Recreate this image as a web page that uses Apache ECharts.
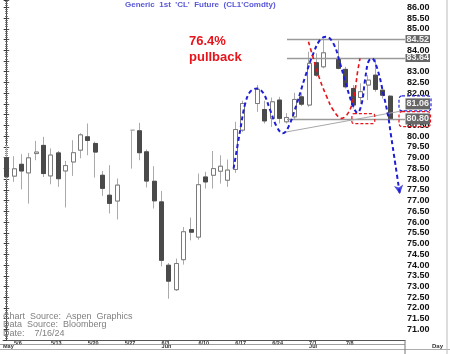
<!DOCTYPE html>
<html><head><meta charset="utf-8">
<script src="https://cdn.jsdelivr.net/npm/echarts/dist/echarts.min.js"></script>
<style>html,body{margin:0;padding:0;background:#fff}#c{width:450px;height:354px}</style>
</head><body><div id="c"></div>
<script>
// ---- data (one slot per weekday; holidays are null) ----
const dates = ['5/3','5/6','5/7','5/8','5/9','5/10','5/13','5/14','5/15','5/16','5/17','5/20','5/21','5/22','5/23','5/24','5/27','5/28','5/29','5/30','5/31','6/3','6/4','6/5','6/6','6/7','6/10','6/11','6/12','6/13','6/14','6/17','6/18','6/19','6/20','6/21','6/24','6/25','6/26','6/27','6/28','7/1','7/2','7/3','7/4','7/5','7/8','7/9','7/10','7/11','7/12','7/15','7/16'];
const opens = [79.00,78.14,78.69,78.29,79.19,79.57,78.15,79.22,78.38,78.80,79.35,79.97,79.66,78.18,77.25,76.98,null,80.28,80.25,79.27,77.90,76.94,73.99,72.85,74.25,75.65,75.30,78.10,78.18,78.37,77.95,78.45,80.28,null,81.52,81.24,80.83,81.68,80.67,80.90,81.83,81.45,83.42,83.23,null,83.62,83.11,82.22,81.80,82.38,82.84,82.14,81.86];
const closes = [78.11,78.48,78.38,78.99,79.26,78.26,79.12,78.02,78.63,79.23,80.06,79.80,79.26,77.57,76.87,77.72,null,80.28,79.23,77.91,76.99,74.22,73.25,74.07,75.55,75.53,77.74,77.87,78.49,78.60,78.42,80.31,81.52,null,82.18,80.71,81.60,80.83,80.87,81.71,81.49,83.39,82.84,83.88,null,83.16,82.30,81.45,82.07,82.61,82.18,81.91,80.80];
const lows = [77.95,77.87,77.52,76.86,78.88,78.10,77.76,77.64,76.68,78.15,78.97,79.11,78.07,77.22,76.40,76.12,null,78.49,78.88,77.61,76.63,73.94,72.43,72.79,74.02,75.15,75.18,77.56,77.56,77.79,77.64,78.29,80.20,null,81.13,80.59,80.43,80.59,80.59,80.78,81.40,81.37,82.76,83.16,null,83.11,82.22,81.29,81.52,81.68,82.07,81.75,80.75];
const highs = [79.58,79.07,79.16,79.22,79.78,79.97,79.43,79.31,78.85,79.81,80.14,80.59,79.75,78.38,78.65,78.03,null,80.28,80.62,79.38,78.60,77.45,74.09,74.30,75.77,76.21,78.26,78.34,79.31,79.11,78.91,80.67,81.65,null,82.38,81.65,81.80,81.83,81.07,82.02,82.00,83.93,83.86,84.52,null,84.45,83.23,82.38,82.46,82.84,83.64,82.30,81.91];

const weekIdx = [1,6,11,16,21,26,31,36,41,46];
const monthLabels = ['May','Jun','Jul'];
const monthIdx = [-0.5,21,41];

// annotation levels
const levelValues = [84.52, 83.64, 80.80];
const levelStartIdx = 38;
const currentPrice = 81.06;
const trendFrom = [37.5, 80.17];
const trendTo = [54, 81.20];

// hand-drawn projection curves (slot index, price)
const blueIdx = [30.76,31.66,32.34,33.02,33.92,34.82,35.72,36.63,37.44,38.20,39.34,40.46,41.58,42.49,43.30,44.29,45.20,46.10,47.00,47.54,48.13,48.58,49.03,49.49,50.16,51.06,51.73,52.06,52.71,53.30];
const bluePx  = [78.49,80.28,81.52,82.07,82.22,81.99,81.21,80.43,80.13,80.43,81.52,82.76,83.86,84.48,84.63,84.32,83.39,82.30,81.37,81.09,81.52,82.61,83.46,83.62,83.23,81.99,80.90,80.13,78.65,77.30];
const redIdx = [40.91,41.58,42.49,43.40,44.29,45.43,46.10,46.78,47.23,47.54,47.90];
const redPx  = [84.40,83.62,82.61,81.83,81.21,80.83,80.98,81.45,82.14,82.92,83.62];
const boxIdx = [46.8, 49.9];
const boxPx = [81.05, 80.58];

const FONT = 'Liberation Sans';
const weekMap = {}; weekIdx.forEach(i => weekMap[i] = dates[i]);
const monthMap = {}; monthIdx.forEach((i,k) => monthMap[i] = monthLabels[k]);

const wickData = [], bodyData = [];
dates.forEach((d,i) => {
  if (opens[i] == null) return;
  wickData.push([i, opens[i], closes[i], lows[i], highs[i]]);
  if (opens[i] !== closes[i]) bodyData.push([i, opens[i], closes[i], Math.min(opens[i],closes[i]), Math.max(opens[i],closes[i])]);
});

const hiddenNear = [84.52, 83.64, 80.80, 81.50];
const yFmt = v => {
  if (v < 71 || v > 86) return '';
  for (const h of hiddenNear) if (Math.abs(v - h) < 0.25) return '';
  return v.toFixed(2);
};

const chart = echarts.init(document.getElementById('c'), null, {renderer:'canvas'});
const yCommon = {type:'value', min:70.5, max:86.34, interval:0.5, splitLine:{show:false}};
const option = {
  animation: false,
  backgroundColor: '#fff',
  grid: {left: 2.3, right: 45, top: 0, bottom: 13.8},
  xAxis: [
    {type:'value', min:-0.5, max:54, interval:0.5,
     axisLine:{show:true, lineStyle:{color:'#555', width:1}}, axisTick:{show:false}, splitLine:{show:false},
     axisLabel:{formatter: v => weekMap[v] || '', fontSize:5.5, fontWeight:'bold', color:'#333', align:'left', margin:0, fontFamily:FONT}},
    {type:'value', min:-0.5, max:54, interval:0.5, position:'bottom', offset:3.5,
     axisLine:{show:false}, axisTick:{show:false}, splitLine:{show:false},
     axisLabel:{formatter: v => monthMap[v] || '', fontSize:5.5, fontWeight:'bold', color:'#333', align:'left', margin:0, fontFamily:FONT}}
  ],
  yAxis: [
    Object.assign({}, yCommon, {position:'right',
     axisLine:{show:true, lineStyle:{color:'#333'}},
     axisTick:{show:true, inside:true, length:3, lineStyle:{color:'#333'}},
     minorTick:{show:true, splitNumber:5, length:1.5, lineStyle:{color:'#666'}},
     axisLabel:{formatter:yFmt, fontSize:9, fontWeight:'bold', color:'#111', margin:2, fontFamily:FONT, showMinLabel:false, showMaxLabel:false}}),
    Object.assign({}, yCommon, {position:'left',
     axisLine:{show:true, lineStyle:{color:'#444'}},
     axisTick:{show:true, inside:true, length:2.5, lineStyle:{color:'#555'}},
     minorTick:{show:true, splitNumber:5, length:1.2, lineStyle:{color:'#777'}},
     axisLabel:{show:false}})
  ],
  series: [
    {type:'candlestick', name:'wick', data:wickData, encode:{x:0, y:[1,2,3,4]}, barWidth:4.5, z:2,
     itemStyle:{color:'#fff', color0:'#4a4a4a', borderColor:'#aaa', borderColor0:'#aaa', borderWidth:1},
     markLine:{silent:true, symbol:'none', animation:false, label:{show:false},
       lineStyle:{color:'#9a9a9a', width:1.4, type:'solid'},
       data: levelValues.map(v => [{coord:[levelStartIdx, v]}, {coord:[54, v]}])
             .concat([[{coord:trendFrom, lineStyle:{width:1, color:'#a8a8a8'}}, {coord:trendTo}]])}},
    {type:'candlestick', name:'body', data:bodyData, encode:{x:0, y:[1,2,3,4]}, barWidth:4.5, z:3,
     itemStyle:{color:'#fff', color0:'#4a4a4a', borderColor:'#7a7a7a', borderColor0:'#4a4a4a', borderWidth:1}},
    {type:'line', name:'blue', data: blueIdx.map((x,k) => [x, bluePx[k]]), smooth:0.4, symbol:'none', z:5,
     lineStyle:{color:'#1e1ed6', width:2, type:[4,3]}},
    {type:'line', name:'red', data: redIdx.map((x,k) => [x, redPx[k]]), smooth:0.4, symbol:'none', z:5,
     lineStyle:{color:'#e8141b', width:1.6, type:[4,3]}},
    {type:'scatter', name:'arrow', data:[[blueIdx[blueIdx.length-1], bluePx[bluePx.length-1]]],
     symbol:'arrow', symbolSize:[7,9], symbolRotate:188, z:6, itemStyle:{color:'#1e1ed6'}}
  ]
};
chart.setOption(option);

const P = (x, y) => chart.convertToPixel({xAxisIndex:0, yAxisIndex:0}, [x, y]);
const yPix = v => chart.convertToPixel({yAxisIndex:0}, v);
const g = [];
// title and notes
g.push({type:'text', x:125, y:4.5, z:50, style:{text:"Generic  1st  'CL'  Future  (CL1'Comdty)", fill:'#5858d8', fontSize:8, fontWeight:'bold', fontFamily:FONT, verticalAlign:'middle'}});
['Chart  Source:  Aspen  Graphics','Data  Source:  Bloomberg','Date:    7/16/24'].forEach((t,k) => {
  g.push({type:'text', x:3, y:[316.5,325,333.3][k], z:50, style:{text:t, fill:'#808080', fontSize:9, fontFamily:FONT, verticalAlign:'middle'}});
});
g.push({type:'text', x:189, y:41.7, z:50, style:{text:'76.4%', fill:'#e8141b', fontSize:13, fontWeight:'bold', fontFamily:FONT, verticalAlign:'middle'}});
g.push({type:'text', x:189, y:57.3, z:50, style:{text:'pullback', fill:'#e8141b', fontSize:13, fontWeight:'bold', fontFamily:FONT, verticalAlign:'middle'}});
// red box in plot
const b1 = P(boxIdx[0], boxPx[0]), b2 = P(boxIdx[1], boxPx[1]);
g.push({type:'rect', z:60, shape:{x:b1[0], y:b1[1], width:b2[0]-b1[0], height:b2[1]-b1[1], r:2}, style:{fill:'none', stroke:'#e8141b', lineWidth:1.2, lineDash:[3,2]}});
// price tags on the axis
const tag = (txt, cy, big) => ({type:'text', x:405.5, y:cy, z:55, style:{text:txt, fill:'#f2f2f2', backgroundColor:'#666', fontSize:9, fontWeight:'bold', fontFamily:FONT, verticalAlign:'middle', align:'left', padding: big ? [1,1] : [0,1], lineHeight: big ? 9 : 8}});
g.push(tag(levelValues[0].toFixed(2), yPix(levelValues[0]), false));
g.push(tag(levelValues[1].toFixed(2), yPix(levelValues[1]), false));
const cy81 = yPix(currentPrice) - 9.5;
const cy80 = yPix(levelValues[2]);
g.push(tag(currentPrice.toFixed(2), cy81, true));
g.push(tag(levelValues[2].toFixed(2), cy80, true));
g.push({type:'rect', z:60, shape:{x:399, y:cy81-8, width:32, height:15, r:3}, style:{fill:'none', stroke:'#2323d8', lineWidth:1.2, lineDash:[3,2]}});
g.push({type:'rect', z:60, shape:{x:399, y:cy80-7.3, width:31.5, height:15, r:3}, style:{fill:'none', stroke:'#e8141b', lineWidth:1.2, lineDash:[3,2]}});
// frame lines
const ln = (x1,y1,x2,y2,c,w) => ({type:'line', z:40, shape:{x1,y1,x2,y2}, style:{stroke:c, lineWidth:w||1}});
g.push(ln(0,344.5,405,344.5,'#888',0.8));
g.push(ln(0,349.5,450,349.5,'#999',0.8));
g.push(ln(405,340,405,354,'#777',1));
g.push(ln(447,0,447,354,'#bbb',1));
g.push({type:'text', x:432, y:346.5, z:50, style:{text:'Day', fill:'#333', fontSize:6, fontWeight:'bold', fontFamily:FONT, verticalAlign:'middle'}});
chart.setOption({graphic: g});
</script></body></html>
